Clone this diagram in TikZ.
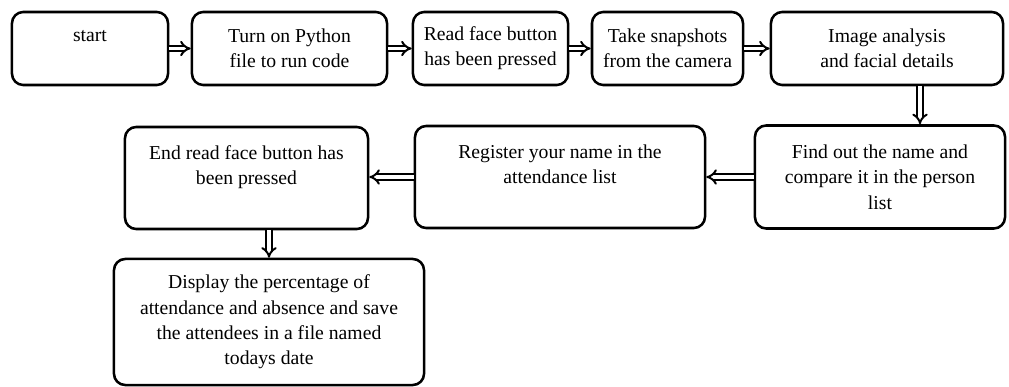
\documentclass[tikz,border=0pt]{standalone}
\usepackage{fontspec}
\setmainfont{Liberation Serif}
\usepackage{tikz}
\usetikzlibrary{arrows.meta,positioning,calc}

\begin{document}
\begin{tikzpicture}[x=0.025cm, y=0.025cm,
    stepbox/.style={draw, line width=1.8pt, rounded corners=8pt, align=center,
        inner sep=2pt, font=\fontsize{14}{18}\selectfont},
    dbl/.style={double, double distance=2.2pt, line width=1.4pt, -{Implies[scale=1.2]}},
    bigdbl/.style={dbl, -{Implies[scale=1.7]}}]
\useasboundingbox (0,0) rectangle (1009,-387);

% First row
\node[stepbox, minimum width=3.9cm, minimum height=1.825cm] (start) at (90,-48.5) {start\\ \mbox{}};
\node[stepbox, minimum width=4.875cm, minimum height=1.825cm] (turn) at (289.5,-48.5) {Turn on Python\\ file to run code};
\node[stepbox, minimum width=3.875cm, minimum height=1.825cm] (read) at (490.5,-48.5) {Read face button\\ has been pressed};
\node[stepbox, minimum width=3.775cm, minimum height=1.825cm] (snap) at (667.5,-48.5) {Take snapshots\\ from the camera};
\node[stepbox, minimum width=5.8cm, minimum height=1.825cm] (image) at (887,-48.5) {Image analysis\\ and facial details};

% Second row
\node[stepbox, minimum width=6.25cm, minimum height=2.575cm] (find) at (880,-177) {Find out the name and\\ compare it in the person\\ list};
\node[stepbox, minimum width=7.25cm, minimum height=2.55cm] (reg) at (560,-177) {Register your name in the\\ attendance list\\ \mbox{}};
\node[stepbox, minimum width=6.075cm, minimum height=2.55cm] (endr) at (246.5,-178) {End read face button has\\ been pressed\\ \mbox{}};

% Last box
\node[stepbox, minimum width=7.75cm, minimum height=3.15cm] (disp) at (269,-322) {Display the percentage of\\ attendance and absence and save\\ the attendees in a file named\\ todays date};

% Arrows
\draw[dbl] (start) -- (turn);
\draw[dbl] (turn) -- (read);
\draw[dbl] (read) -- (snap);
\draw[dbl] (snap) -- (image);
\draw[bigdbl] ([xshift=0.825cm]image.south) -- ([xshift=0.825cm]image.south |- find.north);
\draw[bigdbl] (find.west) -- (find.west -| reg.east);
\draw[bigdbl] (reg.west) -- (reg.west -| endr.east);
\draw[bigdbl] (endr.south -| disp.north) -- (disp.north);
\end{tikzpicture}
\end{document}
